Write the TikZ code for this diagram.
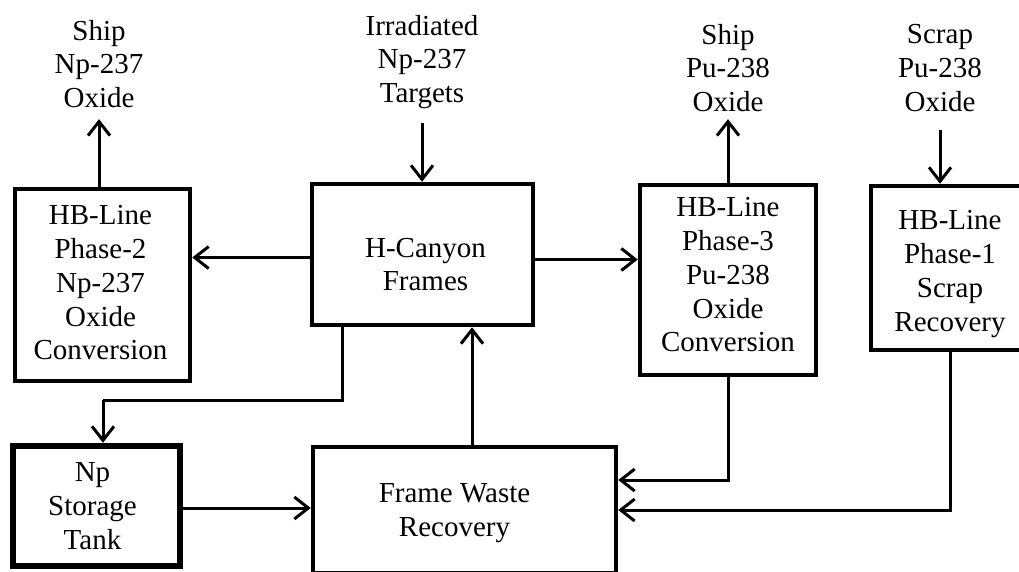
\documentclass[tikz,border=0pt]{standalone}
\usepackage{fontspec}
\setmainfont{Liberation Serif}
\usetikzlibrary{arrows.meta,calc}
\begin{document}
\begin{tikzpicture}[x=1pt,y=-1pt,
  txt/.style={align=center,inner sep=0pt,font=\fontsize{29}{33.75}\selectfont},
  box/.style={draw,line width=4.5pt,inner sep=0pt},
  thickbox/.style={box,line width=6.5pt},
  arr/.style={-{Straight Barb[length=14pt,width=22pt]},line width=3pt},
  con/.style={line width=3pt}]
\useasboundingbox (0,0) rectangle (1019,571);
\clip (0,0) rectangle (1019,571);
% boxes
\node[box,minimum width=175pt,minimum height=192pt] (hb2) at (102.5,285) {};
\node[box,minimum width=221pt,minimum height=141pt] (hc) at (422.5,254.5) {};
\node[box,minimum width=176pt,minimum height=190pt] (hb3) at (728,280) {};
\node[box,minimum width=158pt,minimum height=164pt] (hb1) at (950,268) {};
\node[thickbox,minimum width=167pt,minimum height=120pt] (nps) at (96.5,506) {};
\node[box,minimum width=303pt,minimum height=126pt] (fwr) at (464.5,510) {};
% box texts
\node[txt] (hb2t) at ($(hb2.center)+(-2,-2)$) {HB-Line\\Phase-2\\Np-237\\Oxide\\Conversion};
\node[txt] (hct) at ($(hc.center)+(3,10)$) {H-Canyon\\Frames};
\node[txt] (hb3t) at ($(hb3.center)+(0,-5)$) {HB-Line\\Phase-3\\Pu-238\\Oxide\\Conversion};
\node[txt] (hb1t) at ($(hb1.center)+(0,6)$) {HB-Line\\Phase-1\\Scrap\\Recovery};
\node[txt] (npst) at ($(nps.center)+(-4,0)$) {Np\\Storage\\Tank};
\node[txt] (fwrt) at ($(fwr.center)+(-10,3)$) {Frame Waste\\Recovery};
% top texts
\node[txt] (shipnp) at (99,64) {Ship\\Np-237\\Oxide};
\node[txt] (irr) at (422,62) {Irradiated\\Np-237\\Targets};
\node[txt] (shippu) at (728,68) {Ship\\Pu-238\\Oxide};
\node[txt] (scrap) at (940,68) {Scrap\\Pu-238\\Oxide};
% helper coordinates
\coordinate (drop) at (342,0);
\coordinate (bend) at (103,400);
\coordinate (up) at (472,0);
% connectors
\draw[arr,shorten >=11pt] (hb2.north -| shipnp) -- (shipnp.south);
\draw[arr,shorten <=14pt] (irr.south) -- (irr.south |- hc.north);
\draw[arr,shorten >=7pt] (hb3.north -| shippu) -- (shippu.south);
\draw[arr,shorten <=18pt] (scrap.south) -- (scrap.south |- hb1.north);
\draw[arr] ($(hc.west)+(0,3)$) -- ($(hc.west -| hb2.east)+(0,3)$);
\draw[arr] ($(hc.east)+(0,5)$) -- ($(hc.east -| hb3.west)+(0,5)$);
\draw[con] (hc.south -| drop) |- (bend);
\draw[arr] (bend) -- (bend |- nps.north);
\draw[arr] (fwr.north -| up) -- (up |- hc.south);
\draw[arr] ($(nps.east)+(0,2)$) -- ($(nps.east -| fwr.west)+(0,2)$);
\draw[arr] (hb3.south) |- ($(fwr.east)+(0,-30)$);
\draw[arr] (hb1.south) |- (fwr.east);
\end{tikzpicture}
\end{document}
